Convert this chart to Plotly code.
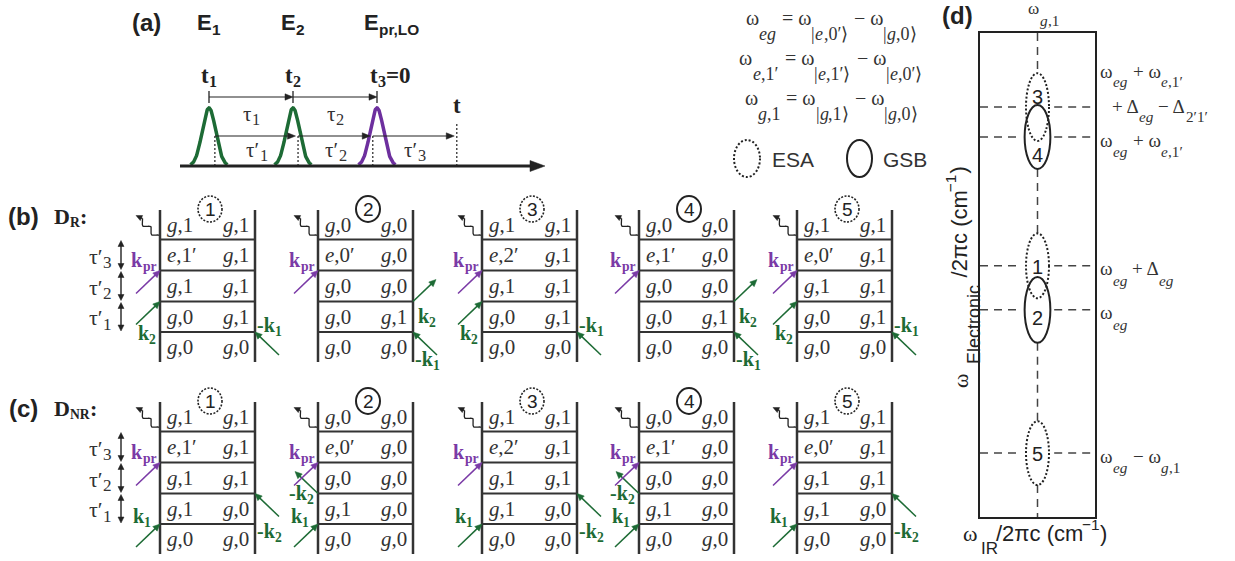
import re
import numpy as np
import plotly.graph_objects as go

W, H = 1235, 561

# ======================= DATA =======================
# (a) pulse sequence; times in units of the pulse spacing
pulse_names = ['E<sub>1</sub>', 'E<sub>2</sub>', 'E<sub>pr,LO</sub>']
pulse_times = [0.0, 1.0, 2.0]
pulse_time_labels = ['t<sub>1</sub>', 't<sub>2</sub>', 't<sub>3</sub>=0']
delay_labels = ['τ<sub>1</sub>', 'τ<sub>2</sub>']
field_times = [0.07, 1.06, 1.95, 2.95]
field_delay_labels = ['τ′<sub>1</sub>', 'τ′<sub>2</sub>', 'τ′<sub>3</sub>']
detect_label = 't'

# frequency definitions
definitions = [
    'ω<sub><i>eg</i></sub> = ω<sub>|<i>e</i>,0′⟩</sub> − ω<sub>|<i>g</i>,0⟩</sub>',
    'ω<sub><i>e</i>,1′</sub> = ω<sub>|<i>e</i>,1′⟩</sub> − ω<sub>|<i>e</i>,0′⟩</sub>',
    'ω<sub><i>g</i>,1</sub> = ω<sub>|<i>g</i>,1⟩</sub> − ω<sub>|<i>g</i>,0⟩</sub>',
]
legend_kinds = ['ESA', 'GSB']

# (b),(c) double-sided Feynman diagrams: rows bottom -> top, (ket, bra)
diagram_numbers = ['1', '2', '3', '4', '5']
diagram_kinds = ['ESA', 'GSB', 'ESA', 'GSB', 'ESA']
dr_states = [
    [('g,0', 'g,0'), ('g,0', 'g,1'), ('g,1', 'g,1'), ('e,1′', 'g,1'), ('g,1', 'g,1')],
    [('g,0', 'g,0'), ('g,0', 'g,1'), ('g,0', 'g,0'), ('e,0′', 'g,0'), ('g,0', 'g,0')],
    [('g,0', 'g,0'), ('g,0', 'g,1'), ('g,1', 'g,1'), ('e,2′', 'g,1'), ('g,1', 'g,1')],
    [('g,0', 'g,0'), ('g,0', 'g,1'), ('g,0', 'g,0'), ('e,1′', 'g,0'), ('g,0', 'g,0')],
    [('g,0', 'g,0'), ('g,0', 'g,1'), ('g,1', 'g,1'), ('e,0′', 'g,1'), ('g,1', 'g,1')],
]
dnr_states = [
    [('g,0', 'g,0'), ('g,1', 'g,0'), ('g,1', 'g,1'), ('e,1′', 'g,1'), ('g,1', 'g,1')],
    [('g,0', 'g,0'), ('g,1', 'g,0'), ('g,0', 'g,0'), ('e,0′', 'g,0'), ('g,0', 'g,0')],
    [('g,0', 'g,0'), ('g,1', 'g,0'), ('g,1', 'g,1'), ('e,2′', 'g,1'), ('g,1', 'g,1')],
    [('g,0', 'g,0'), ('g,1', 'g,0'), ('g,0', 'g,0'), ('e,1′', 'g,0'), ('g,0', 'g,0')],
    [('g,0', 'g,0'), ('g,1', 'g,0'), ('g,1', 'g,1'), ('e,0′', 'g,1'), ('g,1', 'g,1')],
]
# first two interactions: (side, in/out, label)
dr_interactions = [
    [('R', 'in', '-k<sub>1</sub>'), ('L', 'in', 'k<sub>2</sub>')],
    [('R', 'in', '-k<sub>1</sub>'), ('R', 'out', 'k<sub>2</sub>')],
    [('R', 'in', '-k<sub>1</sub>'), ('L', 'in', 'k<sub>2</sub>')],
    [('R', 'in', '-k<sub>1</sub>'), ('R', 'out', 'k<sub>2</sub>')],
    [('R', 'in', '-k<sub>1</sub>'), ('L', 'in', 'k<sub>2</sub>')],
]
dnr_interactions = [
    [('L', 'in', 'k<sub>1</sub>'), ('R', 'in', '-k<sub>2</sub>')],
    [('L', 'in', 'k<sub>1</sub>'), ('L', 'out', '-k<sub>2</sub>')],
    [('L', 'in', 'k<sub>1</sub>'), ('R', 'in', '-k<sub>2</sub>')],
    [('L', 'in', 'k<sub>1</sub>'), ('L', 'out', '-k<sub>2</sub>')],
    [('L', 'in', 'k<sub>1</sub>'), ('R', 'in', '-k<sub>2</sub>')],
]
probe_label = 'k<sub>pr</sub>'

# (d) 2D spectrum peaks (arbitrary units: IR 0-10, electronic 0-100)
peak_numbers = ['3', '4', '1', '2', '5']
peak_kinds = ['ESA', 'GSB', 'ESA', 'GSB', 'ESA']
peak_ir = [5.0, 5.0, 5.0, 5.0, 5.0]
peak_el = [84.7, 78.5, 51.9, 42.8, 13.2]
peak_half_height = [7.0, 6.6, 6.7, 6.8, 6.6]
peak_number_el = [86.8, 74.8, 51.7, 41.1, 13.0]
level_labels = [
    'ω<sub><i>eg</i></sub> + ω<sub><i>e</i>,1′</sub>',
    'ω<sub><i>eg</i></sub> + ω<sub><i>e</i>,1′</sub>',
    'ω<sub><i>eg</i></sub> + Δ<sub><i>eg</i></sub>',
    'ω<sub><i>eg</i></sub>',
    'ω<sub><i>eg</i></sub> − ω<sub><i>g</i>,1</sub>',
]
level_label_extra = '+ Δ<sub><i>eg</i></sub> − Δ<sub>2′1′</sub>'
ir_peak_label = 'ω<sub><i>g</i>,1</sub>'
x_title = ('ω', 'IR', '/2πc (cm<sup>−1</sup>)')
y_title = ('ω', 'Electronic', '/2πc (cm<sup>−1</sup>)')

# ======================= STYLE / LAYOUT =======================
SERIF = 'Liberation Serif, Times New Roman, serif'
SANS = 'Liberation Sans, Arial, sans-serif'
INK = '#333333'
DARK = '#222222'
GREEN = '#1d6b35'
PURPLE = '#7a3aa6'
PULSE_COLORS = [GREEN, GREEN, '#6d2f9e']

T0_PX, PX_PER_T, BASE_PX, PX_PER_A = 209.0, 84.0, 166.0, 58.0
D_X0, D_X1, D_Y0, D_Y1 = 980, 1095, 33, 517
PXU_X, PXU_Y = (D_X1 - D_X0) / 10.0, (D_Y1 - D_Y0) / 100.0
SCALE = {'x': (1.0, -1.0), 'x3': (PX_PER_T, PX_PER_A)}

# approximate advance widths (em) for laying out sub/superscript runs
_SERIF_R = {' ': .25, ',': .25, '0': .5, 'g': .5, 'e': .444, 'k': .5, 'p': .5, 'r': .333,
            't': .278, '=': .564, '−': .564, '+': .564, '-': .333, '|': .2, '⟩': .39,
            'ω': .69, 'τ': .45, 'Δ': .61, '′': .27, ':': .278, '(': .333, ')': .333, '_': .5}
_SERIF_B = dict(_SERIF_R, **{'k': .556, 't': .333, 'p': .556, 'r': .444, 'D': .722,
                             'R': .722, 'N': .722, ':': .333, '=': .57, '-': .333})
_SERIF_I = dict(_SERIF_R, **{'g': .5, 'e': .444})
_SANS_R = {' ': .278, '/': .278, '0': .556, 'π': .6, 'c': .5, '(': .333, ')': .333,
           'm': .833, '−': .584, 'I': .278, 'R': .722, 'E': .667, '_': .55}
_SANS_B = {' ': .278, 'E': .667, 'p': .611, 'r': .389, ',': .278, 'L': .611, 'O': .778,
           '0': .556, '_': .6}


def _table(family, bold, ital):
    if family == 'sans':
        return _SANS_B if bold else _SANS_R
    if bold:
        return _SERIF_B
    return _SERIF_I if ital else _SERIF_R


def _w(s, tab):
    return sum(tab.get(c, tab['0'] if c.isdigit() else tab['_']) for c in s)


fig = go.Figure()


def text(x, y, s, size=18, font=SERIF, color=INK, xanchor='center',
         yanchor='middle', xref='x', yref='y', angle=0):
    fig.add_annotation(x=x, y=y, text=s, showarrow=False, xref=xref, yref=yref,
                       xanchor=xanchor, yanchor=yanchor, textangle=angle,
                       font=dict(family=font, size=size, color=color))


def rich(x, y, s, size, family='serif', bold=False, color=INK, anchor='center',
         sub_scale=0.72, sub_dy=0.32, sup_dy=0.42, angle=0):
    """Lay out a string with <sub>/<sup>/<i> as separate text runs (pixel axes)."""
    runs, sub, sup, ital = [], False, False, False
    for tok in re.split(r'(</?(?:sub|sup|i)>)', s):
        if tok in ('<sub>', '</sub>'):
            sub = tok == '<sub>'
        elif tok in ('<sup>', '</sup>'):
            sup = tok == '<sup>'
        elif tok in ('<i>', '</i>'):
            ital = tok == '<i>'
        elif tok:
            runs.append((tok, sub, sup, ital))
    meas = []
    for t, sb, sp, it in runs:
        fs = size * (sub_scale if (sb or sp) else 1.0)
        tab = _table(family, bold, it)
        lead = len(t) - len(t.lstrip(' '))
        trail = len(t) - len(t.rstrip(' '))
        meas.append((fs, fs * _w(t, tab), fs * tab[' '] * lead, fs * tab[' '] * trail))
    total = sum(m[1] for m in meas)
    off = {'left': 0.0, 'center': -total / 2, 'right': -total}[anchor]
    fam = SANS if family == 'sans' else SERIF
    for (t, sb, sp, it), (fs, w, lead, trail) in zip(runs, meas):
        vis = t.strip(' ')
        c = off + lead + (w - lead - trail) / 2
        dy = sub_dy * size if sb else (-sup_dy * size if sp else 0.0)
        txt = vis
        if it:
            txt = '<i>' + txt + '</i>'
        if bold:
            txt = '<b>' + txt + '</b>'
        if vis:
            if angle == 0:
                text(x + c, y + dy, txt, fs, font=fam, color=color)
            else:
                text(x + dy, y - c, txt, fs, font=fam, color=color, angle=-90)
        off += w


def line(x0, y0, x1, y1, color=INK, width=2, dash=None, xref='x', yref='y'):
    fig.add_shape(type='line', x0=x0, y0=y0, x1=x1, y1=y1, xref=xref, yref=yref,
                  line=dict(color=color, width=width, dash=dash), layer='above')


def arrow(x0, y0, x1, y1, color, width=1.5, hl=7.0, hw=3.2, both=False,
          xref='x', yref='y'):
    sx, sy = SCALE[xref]
    X0, Y0, X1, Y1 = x0 * sx, y0 * sy, x1 * sx, y1 * sy
    d = np.hypot(X1 - X0, Y1 - Y0)
    ux, uy = (X1 - X0) / d, (Y1 - Y0) / d
    nx, ny = -uy, ux

    def head(TX, TY, vx, vy):
        bx, by = TX - vx * hl, TY - vy * hl
        pts = [(TX, TY), (bx + nx * hw, by + ny * hw), (bx - nx * hw, by - ny * hw)]
        path = 'M ' + ' L '.join('%.4f,%.4f' % (px / sx, py / sy) for px, py in pts) + ' Z'
        fig.add_shape(type='path', path=path, xref=xref, yref=yref, fillcolor=color,
                      line=dict(color=color, width=0.5), layer='above')

    sX, sY = (X0 + ux * hl * 0.8, Y0 + uy * hl * 0.8) if both else (X0, Y0)
    eX, eY = X1 - ux * hl * 0.8, Y1 - uy * hl * 0.8
    line(sX / sx, sY / sy, eX / sx, eY / sy, color, width, xref=xref, yref=yref)
    head(X1, Y1, ux, uy)
    if both:
        head(X0, Y0, -ux, -uy)


def fmt(s):
    return '<i>' + s[0] + '</i>' + s[1:]


# ---------------- panel (a): pulses on axes x3/y3 ----------------
def amp(px):
    return (BASE_PX - px) / PX_PER_A


def tpx(t):
    return T0_PX + PX_PER_T * t


for tc, col in zip(pulse_times, PULSE_COLORS):
    tt = np.linspace(tc - 0.22, tc + 0.22, 101)
    fig.add_trace(go.Scatter(x=tt, y=np.exp(-0.5 * ((tt - tc) / 0.08) ** 2),
                             xaxis='x3', yaxis='y3', mode='lines',
                             line=dict(color=col, width=3.5), hoverinfo='skip'))

arrow((180 - T0_PX) / PX_PER_T, 0, (545 - T0_PX) / PX_PER_T, 0, DARK, width=3,
      hl=15, hw=5.5, xref='x3', yref='y3')
for i in range(len(pulse_times)):
    line(pulse_times[i], amp(91), pulse_times[i], amp(103), DARK, 1.3, xref='x3', yref='y3')
for i in range(len(pulse_times) - 1):
    arrow(pulse_times[i], amp(97), pulse_times[i + 1], amp(97), DARK, 1.2, hl=8, hw=3.2,
          xref='x3', yref='y3')
    rich(tpx((pulse_times[i] + pulse_times[i + 1]) / 2), 114, delay_labels[i], 21,
         sub_scale=0.78, sub_dy=0.25)
for i, ft in enumerate(field_times):
    top = amp(122) if i == len(field_times) - 1 else amp(136)
    line(ft, 0, ft, top, DARK, 1.2, dash='2px,2px', xref='x3', yref='y3')
for i in range(len(field_times) - 1):
    arrow(field_times[i], amp(136), field_times[i + 1] - 0.03, amp(136), DARK, 1.2,
          hl=8, hw=3.2, xref='x3', yref='y3')
    rich(tpx((field_times[i] + field_times[i + 1]) / 2), 150, field_delay_labels[i], 21,
         sub_scale=0.78, sub_dy=0.28)
text(tpx(field_times[-1]), 105, '<b>' + detect_label + '</b>', 23, color=DARK)
for i, tc in enumerate(pulse_times):
    last = i == len(pulse_times) - 1
    rich(tpx(tc) - (7 if last else 0), 75, pulse_time_labels[i], 23, bold=True,
         color=DARK, anchor='left' if last else 'center', sub_scale=0.7, sub_dy=0.3)
    rich(tpx(tc) - (13 if last else 0), 22, pulse_names[i], 22, family='sans', bold=True,
         color=DARK, anchor='left' if last else 'center', sub_scale=0.7, sub_dy=0.36)
text(146, 22, '<b>(a)</b>', 24, font=SANS, color=DARK)

# ---------------- definitions + legend ----------------
for i, s in enumerate(definitions):
    rich(831, 18 + 40 * i, s, 20, sub_scale=0.9, sub_dy=0.8)
fig.add_shape(type='circle', x0=734, x1=760, y0=140, y1=177, xref='x', yref='y',
              line=dict(color=DARK, width=2, dash='2px,2px'))
text(770, 159, legend_kinds[0], 21, font=SANS, xanchor='left')
fig.add_shape(type='circle', x0=847, x1=872, y0=140, y1=177, xref='x', yref='y',
              line=dict(color=DARK, width=2))
text(881, 159, legend_kinds[1], 21, font=SANS, xanchor='left')

# ---------------- panels (b), (c) ----------------
DIAG_LEFT = [160, 318, 482, 639, 797]
DIAG_W = 95
BND = (29.5, 60.5, 91.5, 122.0)
DIAG_H = 152


def wavy(x0, y0):
    s = np.linspace(0, 1, 60)
    L = 24 * np.sqrt(2)
    d = np.array([-1, -1]) / np.sqrt(2)
    n = np.array([1, -1]) / np.sqrt(2)
    off = 2.6 * np.sin(2 * np.pi * 2.2 * s)
    xs = x0 + d[0] * L * s * 0.8 + n[0] * off
    ys = y0 + d[1] * L * s * 0.8 + n[1] * off
    fig.add_trace(go.Scatter(x=xs, y=ys, mode='lines', line=dict(color=DARK, width=1.3),
                             hoverinfo='skip', xaxis='x', yaxis='y'))
    arrow(xs[-1], ys[-1], x0 + d[0] * L, y0 + d[1] * L, DARK, 1.3, hl=6, hw=2.8)


def draw_row(top, states, inters, panel, plabel, ply):
    bnd = [top + b for b in BND]
    bottom = top + DIAG_H
    edges = [bottom, bnd[3], bnd[2], bnd[1], bnd[0], top]
    for i, L in enumerate(DIAG_LEFT):
        R = L + DIAG_W
        line(L, top, L, bottom, INK, 2.5)
        line(R, top, R, bottom, INK, 2.5)
        for b in bnd:
            line(L, b, R, b, INK, 2)
        for r, (lt, rt) in enumerate(states[i]):
            yc = (edges[r] + edges[r + 1]) / 2
            text(L + 5, yc, fmt(lt), 21, xanchor='left')
            text(R - 4, yc, fmt(rt), 21, xanchor='right')
        kind = diagram_kinds[i]
        fig.add_shape(type='circle', x0=L + 38, x1=L + 62, y0=top - 14, y1=top + 12,
                      xref='x', yref='y',
                      line=dict(color=DARK, width=1.6 if kind == 'ESA' else 2,
                                dash='2px,1.5px' if kind == 'ESA' else None))
        text(L + 50, top - 1, diagram_numbers[i], 19, font=SANS, color=DARK)
        sides = [it[0] for it in inters[i]]
        for k, (side, direc, lab) in enumerate(inters[i]):
            y = bnd[3] if k == 0 else bnd[2]
            x = L if side == 'L' else R
            s = -1 if side == 'L' else 1
            if direc == 'in':
                arrow(x + s * 24, y + 23, x, y, GREEN, 1.5)
            else:
                arrow(x, y, x + s * 23, y - 22, GREEN, 1.5)
            if k == 0 and side == 'R':
                pos = (R + 15, y + 29) if sides[1] == 'R' else (R + 15, y - 5)
            elif k == 0 and side == 'L':
                pos = (L - 18, y - 6)
            elif side == 'L' and direc == 'in':
                pos = (L - 13, y + 33)
            elif side == 'L':
                pos = (L - 16, y + 1)
            elif direc == 'out':
                pos = (R + 14, y + 16)
            else:
                pos = (R + 15, y + 39)
            rich(pos[0], pos[1] - 2, lab, 20, bold=True, color=GREEN,
                 sub_scale=0.68, sub_dy=0.34)
        arrow(L - 24, bnd[1] + 23, L, bnd[1], PURPLE, 1.5)
        rich(L - 16, bnd[1] - 11, probe_label, 20, bold=True, color=PURPLE,
             sub_scale=0.68, sub_dy=0.34)
        wavy(L, bnd[0])
    segs = [(bnd[0], bnd[1]), (bnd[1], bnd[2]), (bnd[2], bnd[3])]
    for j, (a, b) in enumerate(segs):
        arrow(121, a + 1, 121, b - 1, DARK, 1.4, hl=6, hw=3, both=True)
        rich(112, (a + b) / 2 + 1, field_delay_labels[2 - j], 22, anchor='right',
             sub_scale=0.78, sub_dy=0.3)
    text(23, ply, '<b>' + panel + '</b>', 24, font=SANS, color=DARK)
    rich(54, ply, plabel, 22, bold=True, color=DARK, anchor='left',
         sub_scale=0.62, sub_dy=0.28)


draw_row(210, dr_states, dr_interactions, '(b)', 'D<sub>R</sub>:', 216)
draw_row(402, dnr_states, dnr_interactions, '(c)', 'D<sub>NR</sub>:', 408)

# ---------------- panel (d) on axes x2/y2 ----------------
tops = [e + h for e, h in zip(peak_el, peak_half_height)]
bots = [e - h for e, h in zip(peak_el, peak_half_height)]
merged = []
for b, t in sorted(zip(bots, tops)):
    if merged and b <= merged[-1][1]:
        merged[-1][1] = max(merged[-1][1], t)
    else:
        merged.append([b, t])
vx, vy = [], []
prev = 100.0
for b, t in reversed(merged):
    vx += [5, 5, None]
    vy += [prev, t, None]
    prev = b
vx += [5, 5]
vy += [prev, 0]
fig.add_trace(go.Scatter(x=vx, y=vy, xaxis='x2', yaxis='y2', mode='lines',
                         line=dict(color='#444', width=1.5, dash='8px,6px'),
                         hoverinfo='skip'))
hx, hy = [], []
for e in peak_el:
    hx += [0, 5 - 1.45, None, 5 + 1.45, 10, None]
    hy += [e, e, None, e, e, None]
fig.add_trace(go.Scatter(x=hx, y=hy, xaxis='x2', yaxis='y2', mode='lines',
                         line=dict(color='#444', width=1.5, dash='8px,6px'),
                         hoverinfo='skip'))
for num, kind, x, e, h, ne in zip(peak_numbers, peak_kinds, peak_ir, peak_el,
                                  peak_half_height, peak_number_el):
    hw = 1.0 if kind == 'ESA' else 1.12
    fig.add_shape(type='circle', x0=x - hw, x1=x + hw, y0=e - h, y1=e + h,
                  xref='x2', yref='y2',
                  line=dict(color=DARK, width=2,
                            dash='2px,2px' if kind == 'ESA' else None))
    text(x, ne, num, 20, font=SANS, color=DARK, xref='x2', yref='y2')


def d_px_y(v):
    return D_Y1 - v * PXU_Y


def d_px_x(v):
    return D_X0 + v * PXU_X


lab_x = D_X1 + 5
for i, (e, s) in enumerate(zip(peak_el, level_labels)):
    dy = -36 if i == 0 else 3
    rich(lab_x, d_px_y(e) + dy, s, 19, anchor='left', sub_scale=0.8,
         sub_dy=0.55 if i == 0 else 0.62)
rich(lab_x + 12, d_px_y(peak_el[0]) - 1, level_label_extra, 19, anchor='left',
     sub_scale=0.8, sub_dy=0.55)
rich(d_px_x(peak_ir[0]) + 6, D_Y0 - 25, ir_peak_label, 17, sub_scale=0.9, sub_dy=0.75)
text(957, 15, '<b>(d)</b>', 24, font=SANS, color=DARK)
# axis titles
text(970, 533, x_title[0], 22, color=DARK)
text(989, 548, x_title[1], 17, font=SANS, color=DARK)
rich(997, 533, x_title[2], 22, family='sans', color=DARK, anchor='left',
     sub_scale=0.7, sup_dy=0.4)
text(960, 381, y_title[0], 22, color=DARK, angle=-90)
text(974, 325, y_title[1], 18, font=SANS, color=DARK, angle=-90)
rich(959, 222, y_title[2], 22, family='sans', color=DARK, sub_scale=0.7, sup_dy=0.4,
     angle=-90)

# ---------------- layout ----------------
hidden = dict(visible=False, showgrid=False, zeroline=False, fixedrange=True)
boxed = dict(showline=True, mirror=True, linecolor=DARK, linewidth=2, ticks='',
             showticklabels=False, showgrid=False, zeroline=False, fixedrange=True)
fig.update_layout(
    width=W, height=H, margin=dict(l=0, r=0, t=0, b=0),
    paper_bgcolor='white', plot_bgcolor='rgba(0,0,0,0)', showlegend=False,
    xaxis=dict(range=[0, W], domain=[0, 1], **hidden),
    yaxis=dict(range=[H, 0], domain=[0, 1], **hidden),
    xaxis2=dict(range=[0, 10], domain=[D_X0 / W, D_X1 / W], anchor='y2', **boxed),
    yaxis2=dict(range=[0, 100], domain=[(H - D_Y1) / H, (H - D_Y0) / H], anchor='x2', **boxed),
    xaxis3=dict(range=[-T0_PX / PX_PER_T, (W - T0_PX) / PX_PER_T], domain=[0, 1],
                anchor='y3', **hidden),
    yaxis3=dict(range=[(BASE_PX - H) / PX_PER_A, BASE_PX / PX_PER_A], domain=[0, 1],
                anchor='x3', **hidden),
)
fig.write_html('out.html')
